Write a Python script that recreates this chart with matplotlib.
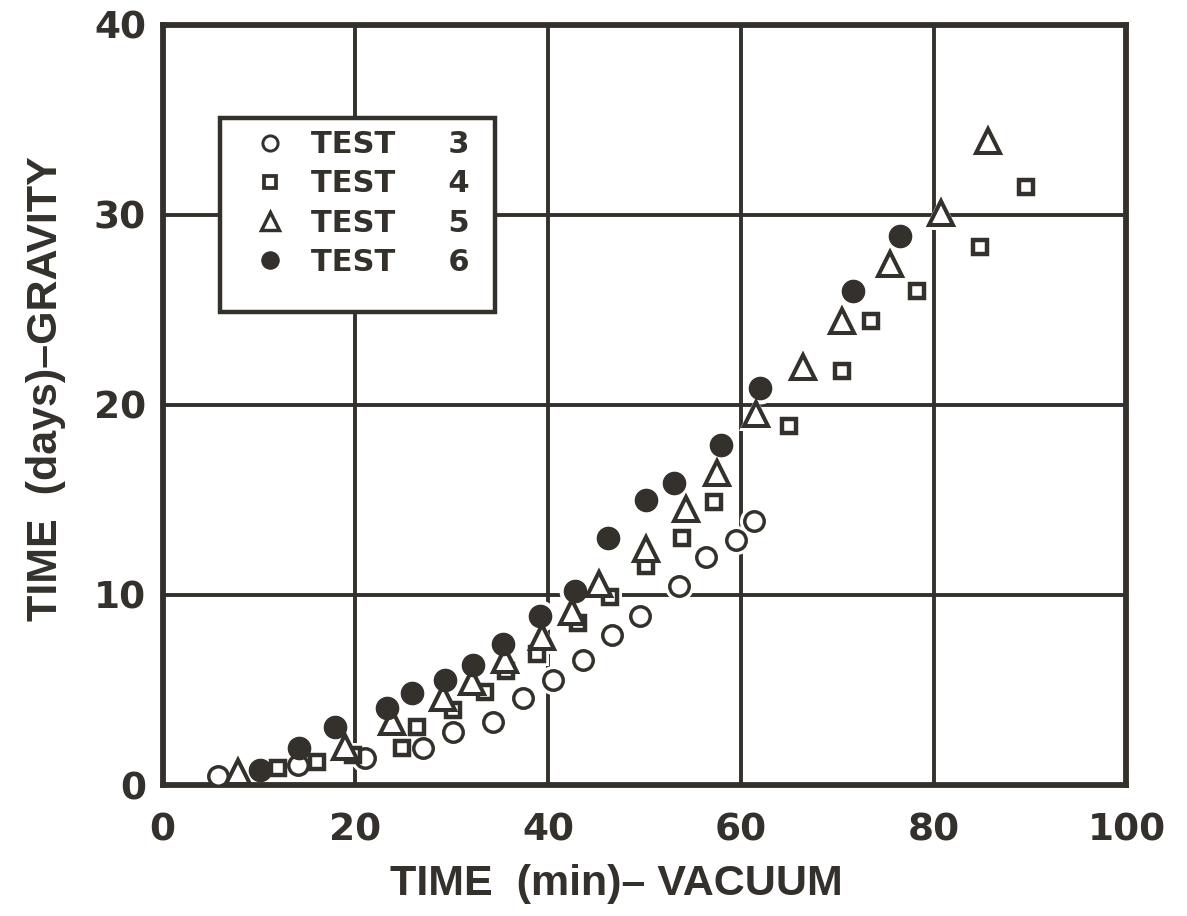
import matplotlib
matplotlib.use("Agg")
import matplotlib.pyplot as plt
from matplotlib.lines import Line2D
from matplotlib.patches import Rectangle

# ---- data ----
t3_x = [5.7, 14.0, 21.0, 27.0, 30.1, 34.3, 37.4, 40.5, 43.6, 46.6, 49.5, 53.6, 56.4, 59.5, 61.4]
t3_y = [0.5, 1.05, 1.4, 1.95, 2.8, 3.3, 4.6, 5.5, 6.6, 7.9, 8.9, 10.45, 12.0, 12.9, 13.9]

t4_x = [12.0, 16.0, 19.8, 24.8, 26.4, 30.1, 33.4, 35.6, 38.8, 43.1, 46.4, 50.2, 53.9, 57.2, 65.0, 70.5, 73.5, 78.3, 84.8, 89.6]
t4_y = [0.9, 1.2, 1.6, 1.95, 3.05, 3.95, 4.9, 6.0, 6.9, 8.55, 9.9, 11.5, 13.0, 14.9, 18.9, 21.8, 24.4, 26.0, 28.3, 31.45]

t5_x = [7.8, 18.9, 23.8, 29.1, 32.1, 35.5, 39.4, 42.5, 45.3, 50.2, 54.3, 57.5, 61.6, 66.4, 70.5, 75.5, 80.8, 85.6]
t5_y = [0.7, 2.0, 3.3, 4.6, 5.4, 6.6, 7.8, 9.1, 10.55, 12.4, 14.5, 16.4, 19.5, 22.0, 24.4, 27.4, 30.1, 33.9]

t6_x = [10.1, 14.1, 17.9, 23.3, 25.9, 29.3, 32.2, 35.3, 39.2, 42.8, 46.2, 50.2, 53.1, 57.9, 62.0, 71.6, 76.5]
t6_y = [0.8, 1.95, 3.05, 4.05, 4.85, 5.5, 6.3, 7.4, 8.9, 10.2, 13.0, 15.0, 15.9, 17.9, 20.9, 26.0, 28.9]

legend_labels = ["TEST     3", "TEST     4", "TEST     5", "TEST     6"]
x_ticks = [0, 20, 40, 60, 80, 100]
y_ticks = [0, 10, 20, 30, 40]
x_label = "TIME  (min)\u2013 VACUUM"
y_label = "TIME  (days)\u2013GRAVITY"

INK = "#34302b"
plt.rcParams["font.family"] = ["DejaVu Sans"]

fig = plt.figure(figsize=(11.87, 9.16), dpi=100)
ax = fig.add_axes([0.137, 0.143, 0.812, 0.830])

ax.set_xlim(0, 100)
ax.set_ylim(0, 40)
ax.set_xticks(x_ticks)
ax.set_yticks(y_ticks)
ax.grid(True, color=INK, linewidth=2.8, zorder=1)
ax.set_axisbelow(True)
for s in ax.spines.values():
    s.set_linewidth(4.2)
    s.set_color(INK)
ax.tick_params(length=0, labelsize=27, labelcolor=INK)
ax.tick_params(axis="x", pad=20)
ax.tick_params(axis="y", pad=12)
for lab in ax.get_xticklabels() + ax.get_yticklabels():
    lab.set_fontweight("bold")

series = [
    (t3_x, t3_y, dict(marker="o", ms=14, mfc="white", mec=INK, mew=2.5)),
    (t4_x, t4_y, dict(marker="s", ms=10.5, mfc="white", mec=INK, mew=3.2)),
    (t5_x, t5_y, dict(marker="^", ms=17, mfc="white", mec=INK, mew=2.9)),
    (t6_x, t6_y, dict(marker="o", ms=16, mfc=INK, mec=INK, mew=1.0)),
]
handles = []
for (xs, ys, st), lab in zip(series, legend_labels):
    halo = dict(st)
    halo.update(mfc="white", mec="white", ms=st["ms"] + 7, mew=0)
    ax.plot(xs, ys, ls="none", zorder=2, **halo)
    ax.plot(xs, ys, ls="none", zorder=3, **st)
    hst = dict(st)
    hst["ms"] = st["ms"] * 0.78
    hst["mew"] = st["mew"] * 0.85
    handles.append(Line2D([], [], ls="none", **hst))

# legend frame (drawn as its own box so the padding can be uneven like the original)
ax.add_patch(Rectangle((0.0591, 0.6224), 0.2853, 0.2553, transform=ax.transAxes,
                       facecolor="white", edgecolor=INK, linewidth=3.2, zorder=4))
leg = ax.legend(handles, legend_labels, loc="upper left",
                bbox_to_anchor=(0.0888, 0.861), frameon=False,
                borderpad=0, labelspacing=0.33, handletextpad=0.64,
                handlelength=1.4, borderaxespad=0,
                prop=dict(size=22, weight="bold"))
leg.set_zorder(5)
for t in leg.get_texts():
    t.set_color(INK)

lab_font = dict(family=["Liberation Sans", "DejaVu Sans"], weight="bold", size=31, color=INK)
ax.set_xlabel(x_label, labelpad=11, **lab_font)
ax.set_ylabel(y_label, labelpad=20, **lab_font)
ax.xaxis.label.set_x(0.471)
ax.yaxis.label.set_y(0.522)

fig.savefig("out.png", dpi=100, facecolor="white")
